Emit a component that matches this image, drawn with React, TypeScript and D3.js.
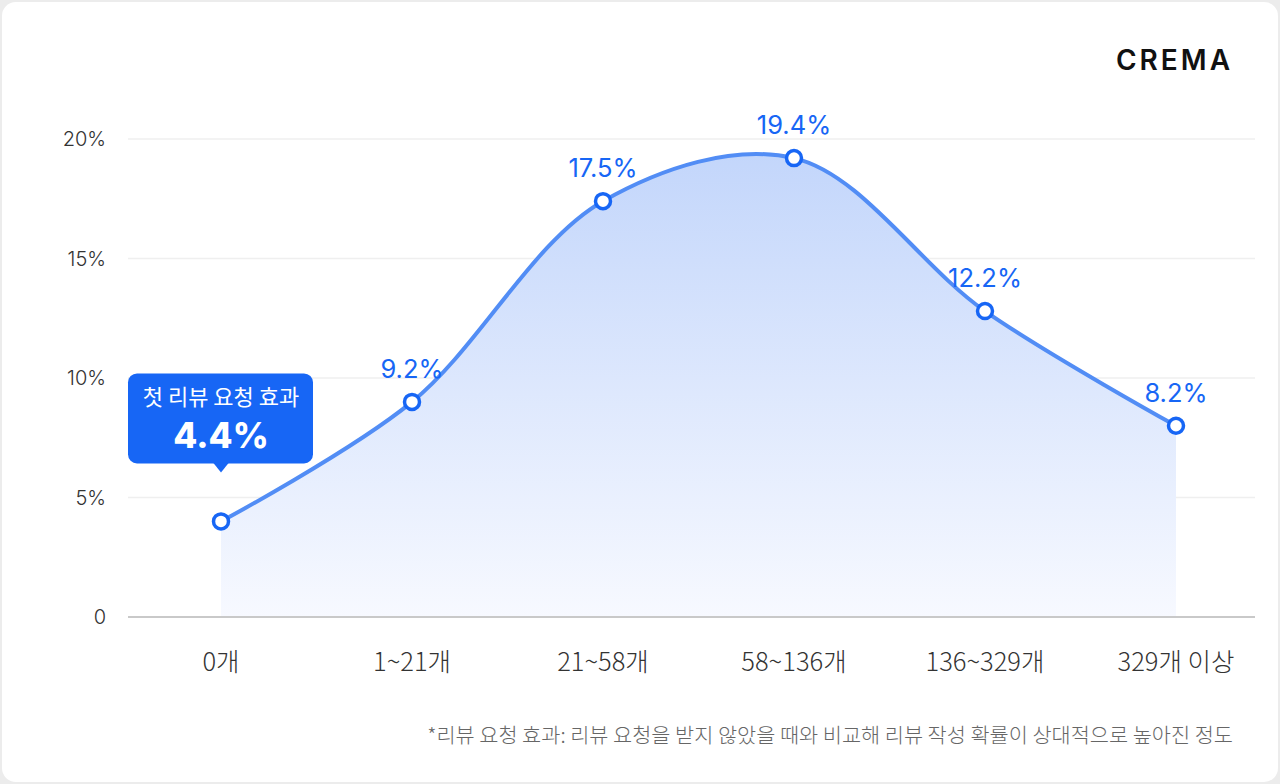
import * as d3 from "d3";

// categories and values
const categories = ["0개", "1~21개", "21~58개", "58~136개", "136~329개", "329개 이상"];
const plotted = [4.0, 9.0, 17.4, 19.2, 12.8, 8.0];
const valueLabels = ["", "9.2%", "17.5%", "19.4%", "12.2%", "8.2%"];
const yTicks = [0, 5, 10, 15, 20];
const calloutTitle = "첫 리뷰 요청 효과";
const calloutValue = "4.4%";
const footnote = "*리뷰 요청 효과: 리뷰 요청을 받지 않았을 때와 비교해 리뷰 작성 확률이 상대적으로 높아진 정도";

const W = 1280;
const H = 784;
const FONT = "Inter, 'Noto Sans CJK KR', sans-serif";
const KR = "'Noto Sans CJK KR', sans-serif";
const BLUE = "#1766f5";

export default function App() {
  const x = d3.scalePoint<string>().domain(categories).range([221, 1176]);
  const y = d3.scaleLinear().domain([0, 20]).range([617, 139]);

  const pts: [number, number][] = plotted.map((v, i) => [x(categories[i]) as number, y(v)]);

  const line = d3
    .line<[number, number]>()
    .x((d) => d[0])
    .y((d) => d[1])
    .curve(d3.curveCatmullRom.alpha(0.5));
  const area = d3
    .area<[number, number]>()
    .x((d) => d[0])
    .y0(y(0))
    .y1((d) => d[1])
    .curve(d3.curveCatmullRom.alpha(0.5));

  const cx0 = pts[0][0];
  const cy0 = pts[0][1];

  return (
    <svg
      width={W}
      height={H}
      style={{ position: "absolute", left: 0, top: 0, fontFamily: FONT }}
    >
      <defs>
        <linearGradient id="fillGrad" x1="0" y1="0" x2="0" y2="1" gradientUnits="objectBoundingBox">
          <stop offset="0%" stopColor="#c3d6fb" />
          <stop offset="100%" stopColor="#f7f9ff" />
        </linearGradient>
      </defs>
      <rect width={W} height={H} fill="#ececec" />
      <rect x={2} y={2} width={W - 4} height={H - 4} rx={14} fill="#fff" />

      {/* logo */}
      <text
        x={1233}
        y={70}
        textAnchor="end"
        fontSize={28}
        fontWeight={600}
        letterSpacing={3}
        fill="#111"
        fontFamily="Inter, sans-serif"
      >
        CREMA
      </text>

      {/* gridlines */}
      {yTicks.map((t) => (
        <g key={t}>
          {t > 0 && (
            <line x1={128} x2={1255} y1={y(t)} y2={y(t)} stroke="#efefef" strokeWidth={1.5} />
          )}
          <text
            x={106}
            y={y(t)}
            dy="0.35em"
            textAnchor="end"
            fontSize={20}
            fontWeight={300}
            fill="#333"
          >
            {t === 0 ? "0" : `${t}%`}
          </text>
        </g>
      ))}

      <path d={area(pts) || ""} fill="url(#fillGrad)" />
      <line x1={128} x2={1255} y1={y(0)} y2={y(0)} stroke="#c9c9c9" strokeWidth={2} />
      <path d={line(pts) || ""} fill="none" stroke="#528df5" strokeWidth={4} />

      {pts.map((p, i) => (
        <g key={categories[i]}>
          <circle cx={p[0]} cy={p[1]} r={7.5} fill="#fff" stroke={BLUE} strokeWidth={3.5} />
          {valueLabels[i] && (
            <text x={p[0]} y={p[1] - 24} textAnchor="middle" fontSize={25.5} fill={BLUE}>
              {valueLabels[i]}
            </text>
          )}
          <text
            x={p[0]}
            y={662}
            dy="0.35em"
            textAnchor="middle"
            fontSize={25.5}
            fontWeight={300}
            fill="#333"
            fontFamily={KR}
          >
            {categories[i]}
          </text>
        </g>
      ))}

      {/* callout */}
      <g>
        <rect x={cx0 - 93} y={cy0 - 148} width={185} height={90} rx={9} fill={BLUE} />
        <path
          d={`M${cx0 - 8},${cy0 - 59} L${cx0},${cy0 - 49} L${cx0 + 8},${cy0 - 59} Z`}
          fill={BLUE}
        />
        <text
          x={cx0}
          y={cy0 - 124}
          dy="0.35em"
          textAnchor="middle"
          fontSize={22}
          fill="#fff"
          fontFamily={KR}
        >
          {calloutTitle}
        </text>
        <text
          x={cx0}
          y={cy0 - 86}
          dy="0.35em"
          textAnchor="middle"
          fontSize={35}
          fontWeight={800}
          fill="#fff"
        >
          {calloutValue}
        </text>
      </g>

      <text
        x={1233}
        y={736}
        dy="0.35em"
        textAnchor="end"
        fontSize={20.8}
        fontWeight={300}
        fill="#666"
        fontFamily={KR}
      >
        {footnote}
      </text>
    </svg>
  );
}
